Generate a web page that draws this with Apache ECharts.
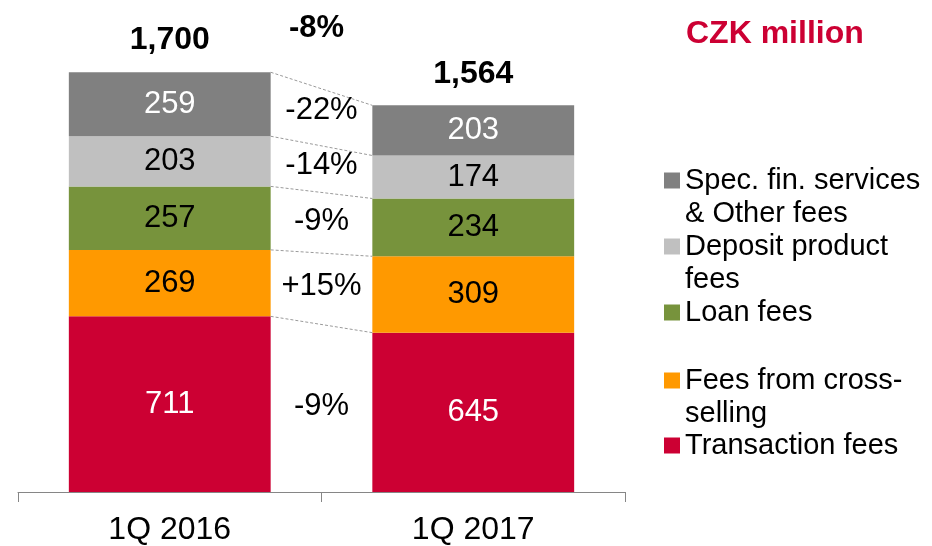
<!DOCTYPE html>
<html>
<head>
<meta charset="utf-8">
<script src="https://cdn.jsdelivr.net/npm/echarts@6/dist/echarts.min.js"></script>
<style>
  html, body { margin: 0; padding: 0; background: #fff; }
  #chart { width: 932px; height: 546px; }
</style>
</head>
<body>
<div id="chart"></div>
<script>
const categories = ['1Q 2016', '1Q 2017']
const transactionFees = [711, 645]
const crossSellingFees = [269, 309]
const loanFees = [257, 234]
const depositFees = [203, 174]
const specialFees = [259, 203]
const totals = [1700, 1564]
// change labels from bottom layer to top layer
const changeLabels = ['-9%', '+15%', '-9%', '-14%', '-22%']
const totalChangeLabel = '-8%'

const FONT = 'Liberation Sans, Arial, sans-serif'
const BAR_WIDTH = 0.665

const layers = [
  { name: 'Transaction fees', data: transactionFees, color: '#CC0033', text: '#fff' },
  { name: 'Fees from cross-\nselling', data: crossSellingFees, color: '#FF9900', text: '#000' },
  { name: 'Loan fees', data: loanFees, color: '#77933C', text: '#000' },
  { name: 'Deposit product\nfees', data: depositFees, color: '#C0C0C0', text: '#000' },
  { name: 'Spec. fin. services\n& Other fees', data: specialFees, color: '#808080', text: '#fff' }
]

// cumulative bottoms/tops for connector lines
const connectorData = []
let cum = [0, 0]
for (let k = 0; k < layers.length; k++) {
  const bottom = cum.slice()
  cum = [cum[0] + layers[k].data[0], cum[1] + layers[k].data[1]]
  connectorData.push([0, cum[0], cum[1], bottom[0], bottom[1]])
}

const barSeries = layers.map(l => ({
  name: l.name,
  type: 'bar',
  stack: 'fees',
  data: l.data,
  barWidth: (BAR_WIDTH * 100) + '%',
  itemStyle: { color: l.color },
  label: {
    show: true,
    position: 'inside',
    color: l.text,
    fontSize: 31,
    fontFamily: FONT
  },
  emphasis: { disabled: true }
}))

// one legend per item so the spacing matches the reference
const legendTops = {
  'Spec. fin. services\n& Other fees': 131,
  'Deposit product\nfees': 197,
  'Loan fees': 296,
  'Fees from cross-\nselling': 331,
  'Transaction fees': 429
}
const legends = Object.keys(legendTops).map(name => {
  const twoLines = name.indexOf('\n') >= 0
  return {
    data: [name],
    left: 664,
    top: legendTops[name],
    padding: 0,
    itemWidth: 16,
    itemHeight: 16,
    selectedMode: false,
    icon: 'rect',
    // empty first line keeps the icon level with the first text line
    formatter: n => (twoLines ? '\n' : '') + n,
    textStyle: {
      fontSize: 29,
      lineHeight: 33,
      fontFamily: FONT,
      color: '#000'
    }
  }
})

const chart = echarts.init(document.getElementById('chart'))
chart.setOption({
  animation: false,
  title: {
    text: 'CZK million',
    left: 681,
    top: 13,
    textStyle: { fontSize: 32, fontWeight: 'bold', color: '#CC0033', fontFamily: FONT }
  },
  legend: legends,
  grid: { left: 18, right: 307, top: 72, bottom: 52 },
  xAxis: {
    type: 'category',
    data: categories,
    axisLine: { lineStyle: { color: '#868686', width: 1 } },
    axisTick: { show: true, length: 10, lineStyle: { color: '#868686' } },
    axisLabel: { fontSize: 32, color: '#000', margin: 22, fontFamily: FONT }
  },
  yAxis: {
    type: 'value',
    min: 0,
    max: 1700,
    show: false,
    splitLine: { show: false }
  },
  series: [
    ...barSeries,
    {
      type: 'scatter',
      data: totals,
      symbolSize: 1,
      itemStyle: { color: 'rgba(0,0,0,0)', opacity: 1 },
      label: {
        show: true,
        position: 'top',
        distance: 15,
        fontSize: 32,
        fontWeight: 'bold',
        color: '#000',
        opacity: 1,
        fontFamily: FONT,
        formatter: p => p.value.toLocaleString('en-US')
      },
      z: 5
    },
    {
      type: 'custom',
      data: connectorData,
      encode: { x: 0, y: [1, 2] },
      silent: true,
      z: 4,
      renderItem: function (params, api) {
        const k = params.dataIndex
        const band = api.size([1, 0])[0]
        const half = band * BAR_WIDTH / 2
        const t1 = api.coord([0, api.value(1)])
        const t2 = api.coord([1, api.value(2)])
        const b1 = api.coord([0, api.value(3)])
        const b2 = api.coord([1, api.value(4)])
        const mid1 = (t1[1] + b1[1]) / 2
        const mid2 = (t2[1] + b2[1]) / 2
        const cx = (t1[0] + t2[0]) / 2
        const children = [
          {
            type: 'line',
            shape: { x1: t1[0] + half, y1: t1[1], x2: t2[0] - half, y2: t2[1] },
            style: { stroke: '#9a9a9a', lineWidth: 1, lineDash: [3, 2] }
          },
          {
            type: 'text',
            style: {
              text: changeLabels[k],
              x: cx,
              y: 0.8 * mid1 + 0.2 * mid2 + 1,
              align: 'center',
              verticalAlign: 'middle',
              fontSize: 31,
              fontFamily: FONT,
              fill: '#000'
            }
          }
        ]
        if (k === layers.length - 1) {
          children.push({
            type: 'text',
            style: {
              text: totalChangeLabel,
              x: cx - 5,
              y: t1[1] - 44,
              align: 'center',
              verticalAlign: 'middle',
              fontSize: 31,
              fontWeight: 'bold',
              fontFamily: FONT,
              fill: '#000'
            }
          })
        }
        return { type: 'group', children: children }
      }
    }
  ]
})
</script>
</body>
</html>
